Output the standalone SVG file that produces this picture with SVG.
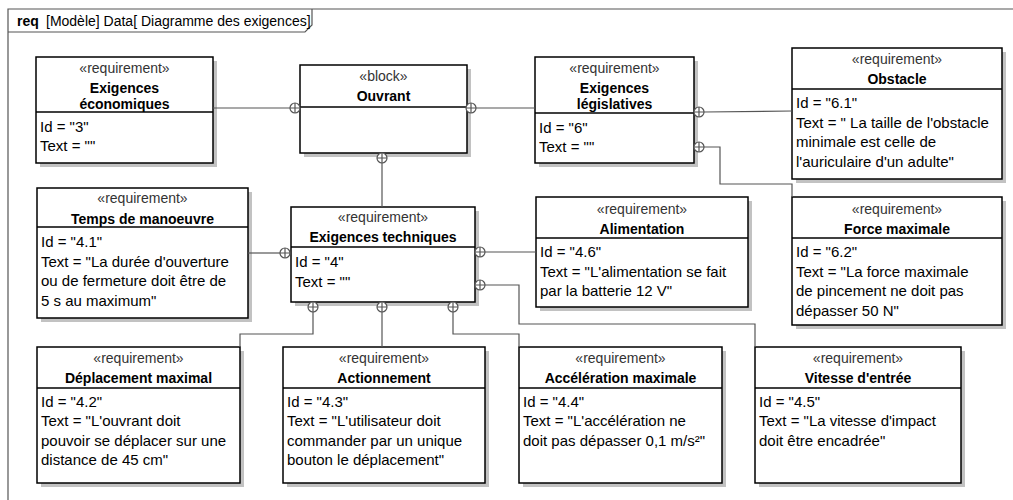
<svg xmlns="http://www.w3.org/2000/svg" xmlns:xlink="http://www.w3.org/1999/xlink" width="1013" height="500" viewBox="0 0 1013 500">
  <style>
    .shadow { fill: #c2c2c2; }
    .box { fill: #ffffff; stroke: #000000; stroke-width: 1.5; }
    .sep { stroke: #000000; stroke-width: 1.5; }
    .st { font-family: "Liberation Sans", Arial, sans-serif; font-size: 14px; fill: #333333; text-anchor: middle; }
    .ti { font-family: "Liberation Sans", Arial, sans-serif; font-size: 14px; font-weight: bold; fill: #000000; text-anchor: middle; }
    .tx { font-family: "Liberation Sans", Arial, sans-serif; font-size: 15px; fill: #000000; }
    .conn { fill: none; stroke: #555555; stroke-width: 1.2; }
    .frame { fill: none; stroke: #555555; stroke-width: 1.2; }
    .lbl { font-family: "Liberation Sans", Arial, sans-serif; font-size: 14px; fill: #000000; }
  </style>
  <defs>
    <!-- containment end: circle with a cross -->
    <g id="cp">
      <circle r="5" fill="#ffffff" stroke="#555555" stroke-width="1.2"/>
      <path d="M-5,0H5M0,-5V5" stroke="#555555" stroke-width="1.2"/>
    </g>
  </defs>

  <rect width="1013" height="500" fill="#ffffff"/>

  <!-- diagram frame and its name tab -->
  <g id="frame">
    <path class="frame" d="M8,500V9H1013"/>
    <path class="frame" d="M8,32H305L312,25V9"/>
    <text class="lbl" x="17" y="26" font-weight="bold">req</text>
    <text class="lbl" x="46" y="26">[Modèle] Data[ Diagramme des exigences]</text>
  </g>

  <!-- Exigences économiques -->
  <g id="exigences-economiques">
    <rect class="shadow" x="40" y="61" width="177" height="106"/>
    <rect class="box" x="36" y="57" width="177" height="106"/>
    <line class="sep" x1="36" y1="112" x2="213" y2="112"/>
    <text class="st" x="124.5" y="73">«requirement»</text>
    <text class="ti" x="124.5" y="93">Exigences</text>
    <text class="ti" x="124.5" y="109">économiques</text>
    <text class="tx" x="40" y="132">Id = "3"</text>
    <text class="tx" x="40" y="151">Text = ""</text>
  </g>

  <!-- Ouvrant -->
  <g id="ouvrant">
    <rect class="shadow" x="304" y="69" width="167" height="88"/>
    <rect class="box" x="300" y="65" width="167" height="88"/>
    <line class="sep" x1="300" y1="107" x2="467" y2="107"/>
    <text class="st" x="383.5" y="81">«block»</text>
    <text class="ti" x="383.5" y="101">Ouvrant</text>
  </g>

  <!-- Exigences législatives -->
  <g id="exigences-legislatives">
    <rect class="shadow" x="539" y="61" width="159" height="106"/>
    <rect class="box" x="535" y="57" width="159" height="106"/>
    <line class="sep" x1="535" y1="113" x2="694" y2="113"/>
    <text class="st" x="614.5" y="73">«requirement»</text>
    <text class="ti" x="614.5" y="93">Exigences</text>
    <text class="ti" x="614.5" y="109">législatives</text>
    <text class="tx" x="539" y="133">Id = "6"</text>
    <text class="tx" x="539" y="152">Text = ""</text>
  </g>

  <!-- Obstacle -->
  <g id="obstacle">
    <rect class="shadow" x="796" y="52" width="210" height="131"/>
    <rect class="box" x="792" y="48" width="210" height="131"/>
    <line class="sep" x1="792" y1="89" x2="1002" y2="89"/>
    <text class="st" x="897" y="64">«requirement»</text>
    <text class="ti" x="897" y="84">Obstacle</text>
    <text class="tx" x="796" y="108">Id = "6.1"</text>
    <text class="tx" x="796" y="127.5">Text = " La taille de l'obstacle</text>
    <text class="tx" x="796" y="147">minimale est celle de</text>
    <text class="tx" x="796" y="166.5">l'auriculaire d'un adulte"</text>
  </g>

  <!-- Temps de manoeuvre -->
  <g id="temps-de-manoeuvre">
    <rect class="shadow" x="41" y="192" width="211" height="130"/>
    <rect class="box" x="37" y="188" width="211" height="130"/>
    <line class="sep" x1="37" y1="227" x2="248" y2="227"/>
    <text class="st" x="142.5" y="203">«requirement»</text>
    <text class="ti" x="142.5" y="224">Temps de manoeuvre</text>
    <text class="tx" x="41" y="247">Id = "4.1"</text>
    <text class="tx" x="41" y="266.5">Text = "La durée d'ouverture</text>
    <text class="tx" x="41" y="286">ou de fermeture doit être de</text>
    <text class="tx" x="41" y="305.5">5 s au maximum"</text>
  </g>

  <!-- Exigences techniques -->
  <g id="exigences-techniques">
    <rect class="shadow" x="295" y="211" width="184" height="95"/>
    <rect class="box" x="291" y="207" width="184" height="95"/>
    <line class="sep" x1="291" y1="247" x2="475" y2="247"/>
    <text class="st" x="383" y="222">«requirement»</text>
    <text class="ti" x="383" y="242">Exigences techniques</text>
    <text class="tx" x="295" y="267">Id = "4"</text>
    <text class="tx" x="295" y="286.5">Text = ""</text>
  </g>

  <!-- Alimentation -->
  <g id="alimentation">
    <rect class="shadow" x="540" y="201" width="212" height="110"/>
    <rect class="box" x="536" y="197" width="212" height="110"/>
    <line class="sep" x1="536" y1="238" x2="748" y2="238"/>
    <text class="st" x="642" y="214">«requirement»</text>
    <text class="ti" x="642" y="234">Alimentation</text>
    <text class="tx" x="540" y="257">Id = "4.6"</text>
    <text class="tx" x="540" y="276.5">Text = "L'alimentation se fait</text>
    <text class="tx" x="540" y="296">par la batterie 12 V"</text>
  </g>

  <!-- Force maximale -->
  <g id="force-maximale">
    <rect class="shadow" x="796" y="201" width="210" height="128"/>
    <rect class="box" x="792" y="197" width="210" height="128"/>
    <line class="sep" x1="792" y1="238" x2="1002" y2="238"/>
    <text class="st" x="897" y="214">«requirement»</text>
    <text class="ti" x="897" y="234">Force maximale</text>
    <text class="tx" x="796" y="257">Id = "6.2"</text>
    <text class="tx" x="796" y="276.5">Text = "La force maximale</text>
    <text class="tx" x="796" y="296">de pincement ne doit pas</text>
    <text class="tx" x="796" y="315.5">dépasser 50 N"</text>
  </g>

  <!-- Déplacement maximal -->
  <g id="deplacement-maximal">
    <rect class="shadow" x="41" y="351" width="203" height="136"/>
    <rect class="box" x="37" y="347" width="203" height="136"/>
    <line class="sep" x1="37" y1="388" x2="240" y2="388"/>
    <text class="st" x="138.5" y="363">«requirement»</text>
    <text class="ti" x="138.5" y="383">Déplacement maximal</text>
    <text class="tx" x="41" y="407">Id = "4.2"</text>
    <text class="tx" x="41" y="426.3">Text = "L'ouvrant doit</text>
    <text class="tx" x="41" y="445.6">pouvoir se déplacer sur une</text>
    <text class="tx" x="41" y="465">distance de 45 cm"</text>
  </g>

  <!-- Actionnement -->
  <g id="actionnement">
    <rect class="shadow" x="287" y="351" width="202" height="136"/>
    <rect class="box" x="283" y="347" width="202" height="136"/>
    <line class="sep" x1="283" y1="388" x2="485" y2="388"/>
    <text class="st" x="384" y="363">«requirement»</text>
    <text class="ti" x="384" y="383">Actionnement</text>
    <text class="tx" x="287" y="407">Id = "4.3"</text>
    <text class="tx" x="287" y="426.3">Text = "L'utilisateur doit</text>
    <text class="tx" x="287" y="445.6">commander par un unique</text>
    <text class="tx" x="287" y="465">bouton le déplacement"</text>
  </g>

  <!-- Accélération maximale -->
  <g id="acceleration-maximale">
    <rect class="shadow" x="523" y="351" width="203" height="136"/>
    <rect class="box" x="519" y="347" width="203" height="136"/>
    <line class="sep" x1="519" y1="388" x2="722" y2="388"/>
    <text class="st" x="620.5" y="363">«requirement»</text>
    <text class="ti" x="620.5" y="383">Accélération maximale</text>
    <text class="tx" x="523" y="407">Id = "4.4"</text>
    <text class="tx" x="523" y="426.3">Text = "L'accélération ne</text>
    <text class="tx" x="523" y="445.6">doit pas dépasser 0,1 m/s²"</text>
  </g>

  <!-- Vitesse d'entrée -->
  <g id="vitesse-entree">
    <rect class="shadow" x="759" y="351" width="206" height="136"/>
    <rect class="box" x="755" y="347" width="206" height="136"/>
    <line class="sep" x1="755" y1="388" x2="961" y2="388"/>
    <text class="st" x="858" y="363">«requirement»</text>
    <text class="ti" x="858" y="383">Vitesse d'entrée</text>
    <text class="tx" x="759" y="407">Id = "4.5"</text>
    <text class="tx" x="759" y="426.3">Text = "La vitesse d'impact</text>
    <text class="tx" x="759" y="445.6">doit être encadrée"</text>
  </g>

  <!-- connectors, drawn last so the end circles sit on top of the boxes -->
  <g id="connectors">
    <path class="conn" d="M213,108H290"/>
    <use xlink:href="#cp" x="295" y="108"/>
    <path class="conn" d="M476,108H535"/>
    <use xlink:href="#cp" x="471" y="108"/>
    <path class="conn" d="M382,163V207"/>
    <use xlink:href="#cp" x="382" y="158"/>
    <path class="conn" d="M704,112L792,111"/>
    <use xlink:href="#cp" x="699" y="112"/>
    <path class="conn" d="M704,147H720V184H792V197"/>
    <use xlink:href="#cp" x="699" y="147"/>
    <path class="conn" d="M248,253H280"/>
    <use xlink:href="#cp" x="285" y="253"/>
    <path class="conn" d="M485,252H536"/>
    <use xlink:href="#cp" x="480" y="252"/>
    <path class="conn" d="M485,285H519V324H755V347"/>
    <use xlink:href="#cp" x="480" y="285"/>
    <path class="conn" d="M313,312V334H240V347"/>
    <use xlink:href="#cp" x="313" y="307"/>
    <path class="conn" d="M382,312V347"/>
    <use xlink:href="#cp" x="382" y="307"/>
    <path class="conn" d="M453,312V334H519V347"/>
    <use xlink:href="#cp" x="453" y="307"/>
  </g>
</svg>
